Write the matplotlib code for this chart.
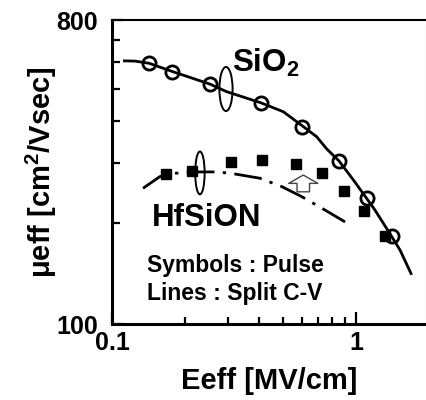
import numpy as np
import matplotlib.pyplot as plt
from matplotlib.patches import Ellipse
from matplotlib.ticker import NullFormatter

plt.rcParams['font.family'] = ['Liberation Sans', 'DejaVu Sans']
plt.rcParams['font.weight'] = 'bold'
plt.rcParams['mathtext.fontset'] = 'custom'
plt.rcParams['mathtext.rm'] = 'Liberation Sans:bold'
plt.rcParams['mathtext.it'] = 'Liberation Sans:bold'
plt.rcParams['mathtext.bf'] = 'Liberation Sans:bold'

# SiO2 : pulse (symbols) and split C-V (line)
sio2_e = [0.142, 0.176, 0.252, 0.408, 0.602, 0.852, 1.106, 1.40]
sio2_mu = [595, 562, 516, 454, 386, 305, 236, 182]
sio2_line_e = [0.111, 0.124, 0.142, 0.176, 0.252, 0.295, 0.408, 0.504, 0.602,
               0.690, 0.759, 0.852, 0.975, 1.106, 1.196, 1.40, 1.514, 1.69]
sio2_line_mu = [605, 604, 595, 563, 516, 490, 454, 427, 388,
                360, 331, 305, 268, 236, 218, 182, 166, 140]

# HfSiON : pulse (symbols) and split C-V (line)
hf_e = [0.166, 0.213, 0.307, 0.413, 0.569, 0.726, 0.896, 1.079, 1.315]
hf_mu = [279, 285, 303, 306, 299, 281, 249, 217, 182]
hf_line_e = [0.134, 0.157, 0.176, 0.219, 0.273, 0.319, 0.404, 0.496, 0.599,
             0.723, 0.902]
hf_line_mu = [253, 274, 280, 283, 283, 279, 271, 256, 239, 221, 201]

fig = plt.figure(figsize=(4.27, 4.0), dpi=100)
ax = fig.add_axes([0.2623, 0.19, 0.7354, 0.76])
ax.set_xscale('log')
ax.set_yscale('log')
ax.set_xlim(0.1, 1.936)
ax.set_ylim(100, 800)

ax.plot(sio2_line_e, sio2_line_mu, color='black', lw=2.0, solid_capstyle='butt')
ax.plot(hf_line_e, hf_line_mu, color='black', lw=2.0,
        linestyle=(0, (10, 3, 1.2, 3)), dash_capstyle='butt')
ax.plot(hf_e, hf_mu, 's', color='black', ms=7.5, zorder=3)
ax.plot(sio2_e, sio2_mu, 'o', mfc='none', mec='black', mew=2.0, ms=9.5, zorder=4)

# loops marking which curve is which
ax.add_patch(Ellipse((0.363, 0.773), 0.042, 0.145, transform=ax.transAxes,
                     fill=False, ec='black', lw=1.4))
ax.add_patch(Ellipse((0.280, 0.497), 0.030, 0.141, transform=ax.transAxes,
                     fill=False, ec='black', lw=1.4))

# hollow arrow
ax.annotate('', xy=(0.608, 277), xytext=(0.608, 247),
            arrowprops=dict(arrowstyle='simple,head_length=6,head_width=21,tail_width=9',
                            mutation_scale=1, fc='white', ec='#444444', lw=1.0,
                            shrinkA=0, shrinkB=0))

ax.text(0.381, 0.829, 'SiO$_2$', transform=ax.transAxes, fontsize=22.5,
        fontweight='bold', va='baseline', ha='left')
ax.text(0.127, 0.322, 'HfSiON', transform=ax.transAxes, fontsize=22.5,
        fontweight='bold', va='baseline', ha='left')
ax.text(0.111, 0.171, 'Symbols : Pulse', transform=ax.transAxes, fontsize=16.5,
        fontweight='bold', va='baseline', ha='left')
ax.text(0.111, 0.079, 'Lines : Split C-V', transform=ax.transAxes, fontsize=16.5,
        fontweight='bold', va='baseline', ha='left')

ax.set_xticks([0.1, 1])
ax.set_xticklabels(['0.1', '1'])
ax.set_xticks([0.2, 0.3, 0.4, 0.5, 0.6, 0.7, 0.8, 0.9], minor=True)
ax.xaxis.set_minor_formatter(NullFormatter())
ax.set_yticks([100, 800])
ax.set_yticklabels(['100', '800'])
ax.set_yticks([200, 300, 400, 500, 600, 700], minor=True)
ax.yaxis.set_minor_formatter(NullFormatter())

ax.tick_params(which='both', direction='in', width=1.6, labelsize=18,
               top=False, right=False)
ax.tick_params(axis='x', which='major', length=8.5, pad=5)
ax.tick_params(axis='x', which='minor', length=5)
ax.tick_params(axis='y', which='major', length=8, pad=10)
ax.tick_params(axis='y', which='minor', length=6)
for lab in ax.get_xticklabels() + ax.get_yticklabels():
    lab.set_fontweight('bold')

ax.spines['left'].set_linewidth(2.2)
ax.spines['bottom'].set_linewidth(2.2)
ax.spines['top'].set_linewidth(1.5)
ax.spines['right'].set_linewidth(0.8)
ax.spines['right'].set_color('#999999')

ax.set_xlabel('Eeff [MV/cm]', fontsize=21, fontweight='bold', labelpad=9)
ax.set_ylabel('μeff [cm$^2$/Vsec]', fontsize=21, fontweight='bold', labelpad=-2)

fig.savefig('out.png', dpi=100)
